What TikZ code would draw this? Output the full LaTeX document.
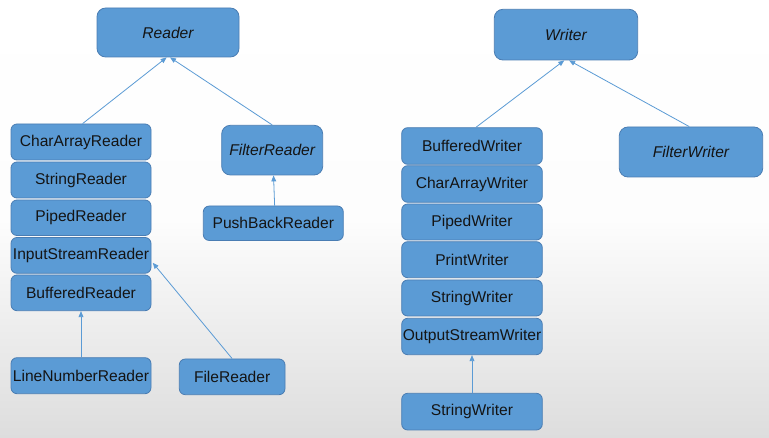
\documentclass[tikz,border=0pt]{standalone}
\usepackage{fontspec}
\setmainfont{Liberation Sans}
\usetikzlibrary{arrows.meta}
\definecolor{boxfill}{HTML}{5B9BD5}
\definecolor{boxline}{HTML}{4A7DB3}
\definecolor{arrline}{HTML}{5B9BD5}
\definecolor{bggray}{HTML}{DDDDDD}
\tikzset{
  box/.style={draw=boxline, line width=0.6pt, fill=boxfill, rounded corners=4.5pt,
    inner sep=0pt, font=\fontsize{11.7}{13}\selectfont, text=black!92},
  big/.style={rounded corners=6.5pt},
  ital/.style={font=\fontsize{11.7}{13}\selectfont\itshape},
  arr/.style={draw=arrline, line width=0.6pt, -{Triangle[length=4.5pt,width=3.6pt]}},
}
\newcommand\mybox[7][]{%
  \pgfmathsetmacro\bw{(#5-#3)*0.75}%
  \pgfmathsetmacro\bh{(#6-#4)*0.75}%
  \node[box,#1,minimum width=\bw pt,minimum height=\bh pt] (#2) at ({(#3+#5)/2},{(#4+#6)/2}) {#7};}
\begin{document}
\begin{tikzpicture}[x=0.75pt,y=-0.75pt]
\shade[top color=white, bottom color=bggray, middle color=white!94!bggray, shading angle=0] (0,0) rectangle (769,438);
\useasboundingbox (0,0) rectangle (769,438);
% Reader side
\mybox[big,ital]{reader}{97}{8}{239}{57}{Reader}
\mybox{car}{11}{124}{151}{160}{CharArrayReader}
\mybox{sr}{11}{162}{151}{198}{StringReader}
\mybox{pr}{11}{200}{151}{235.5}{PipedReader}
\mybox{isr}{11}{237.5}{151}{273.3}{InputStreamReader}
\mybox{br}{11}{275}{151}{310.7}{BufferedReader}
\mybox{lnr}{11}{357.7}{151}{393.7}{LineNumberReader}
\mybox{fr}{179.3}{359}{285}{394.7}{FileReader}
\mybox[big,ital]{filr}{221.7}{125.3}{322.7}{175}{FilterReader}
\mybox{pbr}{203.3}{206}{343.3}{240.5}{PushBackReader}
% Writer side
\mybox[big,ital]{writer}{494.3}{9.3}{637.7}{60}{Writer}
\mybox{bw}{401.7}{127.7}{542.3}{164.3}{BufferedWriter}
\mybox{caw}{401.7}{165.7}{542.3}{202.3}{CharArrayWriter}
\mybox{pw}{401.7}{204}{542.3}{240}{PipedWriter}
\mybox{prw}{401.7}{241.7}{542.3}{277.7}{PrintWriter}
\mybox{sw}{401.7}{280}{542.3}{316}{StringWriter}
\mybox{osw}{401.7}{318.3}{542.3}{354.7}{OutputStreamWriter}
\mybox{sw2}{401.7}{393.3}{542.3}{430}{StringWriter}
\mybox[big,ital]{filw}{619.3}{127}{762.7}{177}{FilterWriter}
% connectors
\draw[arr] ([xshift=1.2pt]car.north) -- ([xshift=-1pt]reader.south);
\draw[arr] (filr.north) -- ([xshift=1.5pt]reader.south);
\draw[arr] ([xshift=1pt]pbr.north) -- ([xshift=1pt]filr.south);
\draw[arr] (lnr.north) -- (br.south);
\draw[arr] (fr.north) -- ([yshift=-5.5pt,xshift=1pt]isr.east);
\draw[arr] ([xshift=3pt]bw.north) -- ([xshift=-1.3pt]writer.south);
\draw[arr] ([xshift=-1.3pt]filw.north) -- ([xshift=2.3pt]writer.south);
\draw[arr] (sw2.north) -- (osw.south);
\end{tikzpicture}
\end{document}
